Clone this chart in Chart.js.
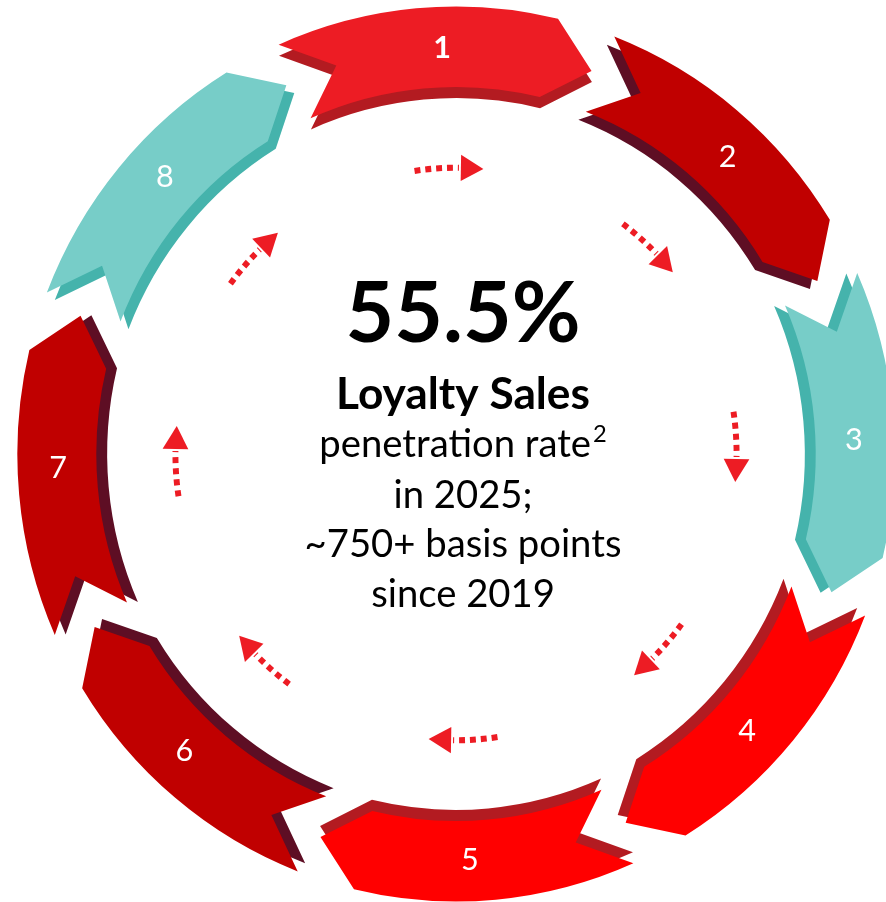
<!DOCTYPE html>
<html>
<head>
<meta charset="utf-8">
<script src="https://cdn.jsdelivr.net/npm/chart.js"></script>
<style>
  html, body { margin: 0; padding: 0; background: #ffffff; overflow: hidden; }
  #wrap { width: 920px; height: 902px; }
</style>
</head>
<body>
<div id="wrap"><canvas id="cycle" width="920" height="902"></canvas></div>
<script>
// the eight steps of the loyalty cycle, equal share each
const steps = ['1', '2', '3', '4', '5', '6', '7', '8'];
const shares = [1, 1, 1, 1, 1, 1, 1, 1];
const fills = ['#ED1C24', '#C00000', '#77CDC8', '#FF0000', '#FF0000', '#C00000', '#C00000', '#77CDC8'];
const shadows = ['#B31B21', '#5E0E24', '#45B3AC', '#B31B21', '#B31B21', '#5E0E24', '#5E0E24', '#45B3AC'];

// centre copy
const headline = '55.5%';
const subhead = 'Loyalty Sales';
const bodyLines = ['penetration rate', 'in 2025;', '~750+ basis points', 'since 2019'];
const footnoteMark = '2';

const DEG = Math.PI / 180;
const FONT = 'Lato, "Open Sans", sans-serif';

// ribbon arrow: notched tail at a0, pointed head at a2
function chevron(ctx, cx, cy, a0, a2, ri, ro, t) {
  const rm = (ri + ro) / 2;
  const a1 = a2 - t;
  ctx.beginPath();
  ctx.arc(cx, cy, ro, a0, a1);
  ctx.lineTo(cx + rm * Math.cos(a2), cy + rm * Math.sin(a2));
  ctx.arc(cx, cy, ri, a1, a0, true);
  ctx.lineTo(cx + rm * Math.cos(a0 + t), cy + rm * Math.sin(a0 + t));
  ctx.closePath();
}

function dottedArrow(ctx, cx, cy, R, m) {
  const aTail = m - 6.5 * DEG, aBase = m + 3 * DEG, aTip = m + 7.6 * DEG;
  ctx.save();
  ctx.strokeStyle = '#ED1C24';
  ctx.fillStyle = '#ED1C24';
  ctx.lineWidth = 6;
  ctx.setLineDash([6, 5]);
  ctx.beginPath();
  ctx.arc(cx, cy, R, aTail, aBase - 0.4 * DEG);
  ctx.stroke();
  ctx.setLineDash([]);
  const nx = Math.cos(aBase), ny = Math.sin(aBase);
  const bx = cx + R * nx, by = cy + R * ny;
  ctx.beginPath();
  ctx.moveTo(cx + R * Math.cos(aTip), cy + R * Math.sin(aTip));
  ctx.lineTo(bx + 13 * nx, by + 13 * ny);
  ctx.lineTo(bx - 13 * nx, by - 13 * ny);
  ctx.closePath();
  ctx.fill();
  ctx.restore();
}

function fitSize(ctx, text, weight, target) {
  ctx.font = weight + ' 100px ' + FONT;
  return 100 * target / ctx.measureText(text).width;
}

const ringPlugin = {
  id: 'ring',
  afterDatasetsDraw(chart) {
    const ctx = chart.ctx;
    const arcs = chart.getDatasetMeta(0).data;
    const c = arcs[0];
    ctx.save();
    // the drawing is very slightly taller than wide
    ctx.translate(c.x, c.y);
    ctx.scale(0.988, 1.008);
    ctx.translate(-c.x, -c.y);
    arcs.forEach((arc, i) => {
      const p = arc.getProps(['x', 'y', 'startAngle', 'endAngle', 'innerRadius', 'outerRadius']);
      const a0 = p.startAngle + 0.65 * DEG;
      const a2 = p.endAngle - 0.65 * DEG;
      const mid = (p.startAngle + p.endAngle) / 2;
      const t = 6.4 * DEG;
      // shadow copy pushed toward the centre
      ctx.save();
      ctx.translate(-11 * Math.cos(mid), -11 * Math.sin(mid));
      chevron(ctx, p.x, p.y, a0, a2, p.innerRadius, p.outerRadius, t);
      ctx.fillStyle = shadows[i];
      ctx.fill();
      ctx.restore();
      chevron(ctx, p.x, p.y, a0, a2, p.innerRadius, p.outerRadius, t);
      ctx.fillStyle = fills[i];
      ctx.fill();
    });
    arcs.forEach((arc, i) => {
      const p = arc.getProps(['x', 'y', 'startAngle', 'endAngle', 'innerRadius', 'outerRadius']);
      const mid = (p.startAngle + p.endAngle) / 2;
      const rl = (p.innerRadius + p.outerRadius) / 2 - 1;
      ctx.fillStyle = '#ffffff';
      ctx.font = (i === 0 ? 'bold ' : '') + '31px ' + FONT;
      ctx.textAlign = 'center';
      ctx.textBaseline = 'middle';
      ctx.fillText(steps[i], p.x + rl * Math.cos(mid), p.y + rl * Math.sin(mid));
      dottedArrow(ctx, p.x, p.y, p.innerRadius * 0.78, mid);
    });
    ctx.restore();
  },
  afterDraw(chart) {
    const ctx = chart.ctx;
    const arc = chart.getDatasetMeta(0).data[0];
    const cx = arc.x + 7, cy = arc.y;
    ctx.save();
    ctx.fillStyle = '#000000';
    ctx.textAlign = 'center';
    ctx.textBaseline = 'alphabetic';

    let s = fitSize(ctx, headline, 'bold', 235);
    ctx.font = 'bold ' + s + 'px ' + FONT;
    ctx.fillText(headline, cx, cy - 112);

    s = fitSize(ctx, subhead, 'bold', 254);
    ctx.font = 'bold ' + s + 'px ' + FONT;
    ctx.fillText(subhead, cx, cy - 45);

    const bs = fitSize(ctx, bodyLines[2], 'normal', 317);
    const offs = [3, 54, 103, 153];
    bodyLines.forEach((line, k) => {
      ctx.font = bs + 'px ' + FONT;
      if (k === 0) {
        const w = ctx.measureText(line).width;
        ctx.font = (bs * 0.62) + 'px ' + FONT;
        const ws = ctx.measureText(footnoteMark).width;
        const left = cx - (w + ws + 2) / 2;
        ctx.textAlign = 'left';
        ctx.font = bs + 'px ' + FONT;
        ctx.fillText(line, left, cy + offs[k]);
        ctx.font = (bs * 0.62) + 'px ' + FONT;
        ctx.fillText(footnoteMark, left + w + 2, cy + offs[k] - bs * 0.38);
        ctx.textAlign = 'center';
      } else {
        ctx.fillText(line, cx, cy + offs[k]);
      }
    });
    ctx.restore();
  }
};

new Chart(document.getElementById('cycle').getContext('2d'), {
  type: 'doughnut',
  data: {
    labels: steps,
    datasets: [{
      data: shares,
      backgroundColor: 'rgba(0,0,0,0)',
      borderWidth: 0,
      hoverOffset: 0,
      offset: 0
    }]
  },
  options: {
    responsive: false,
    animation: false,
    events: [],
    rotation: -24.5,
    cutout: '82%',
    layout: { padding: { left: 12, top: 10, right: 20, bottom: 4 } },
    plugins: {
      legend: { display: false },
      tooltip: { enabled: false }
    }
  },
  plugins: [ringPlugin]
});
</script>
</body>
</html>
